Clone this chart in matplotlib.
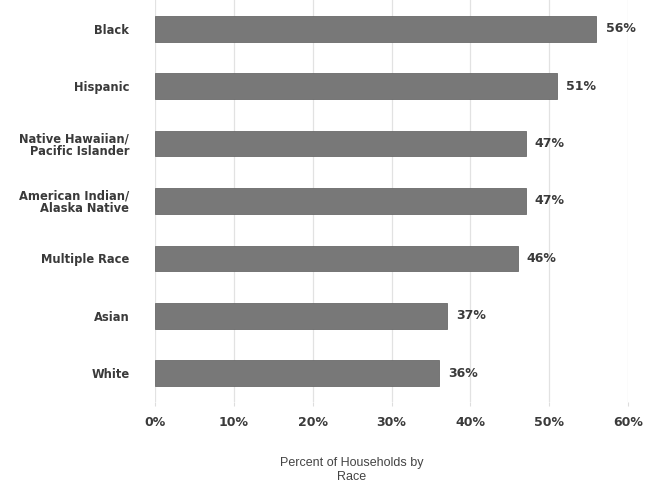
import matplotlib
matplotlib.use("Agg")
import matplotlib.pyplot as plt
from matplotlib.ticker import FuncFormatter

categories = ["Black", "Hispanic", "Native Hawaiian/\nPacific Islander",
              "American Indian/\nAlaska Native", "Multiple Race", "Asian", "White"]
values = [56, 51, 47, 47, 46, 37, 36]
xticks = [0, 10, 20, 30, 40, 50, 60]

plt.rcParams['font.family'] = ['Liberation Sans', 'DejaVu Sans']
BOLD = ['DejaVu Sans']

fig = plt.figure(figsize=(6.45, 4.83), dpi=100)
ax = fig.add_axes([155/645, 1 - 402/483, 473/645, 402/483])

y = list(range(len(categories)))
ax.barh(y, values, height=0.45, color="#787878", edgecolor="#6a6a6a", linewidth=0.6, zorder=3)
for yi, v in zip(y, values):
    ax.text(v + 1.15, yi, f"{v}%", va="center", ha="left", fontsize=9,
            fontweight="bold", color="#3a3a3a", family=BOLD)

ax.set_ylim(len(categories) - 0.5, -0.5)
ax.set_xlim(0, 60)
ax.set_yticks(y)
ax.set_yticklabels(categories, fontsize=8.3, fontweight="bold", color="#3a3a3a",
                   linespacing=1.0, family=BOLD)
ax.set_xticks(xticks)
ax.xaxis.set_major_formatter(FuncFormatter(lambda v, p: f"{int(v)}%"))
for lab in ax.get_xticklabels():
    lab.set_fontsize(9)
    lab.set_fontweight("bold")
    lab.set_color("#3a3a3a")
    lab.set_family(BOLD)
ax.tick_params(axis="y", length=0, pad=18.5)
ax.tick_params(axis="x", length=3, color="#dddddd", pad=7)
ax.grid(axis="x", color="#e2e2e2", linewidth=0.9, zorder=0)
for s in ax.spines.values():
    s.set_visible(False)

fig.text(352/645, 1 - 470/483, "Percent of Households by\nRace", ha="center", va="center",
         fontsize=9, color="#444444", linespacing=1.2)

fig.savefig("out.png", dpi=100)
